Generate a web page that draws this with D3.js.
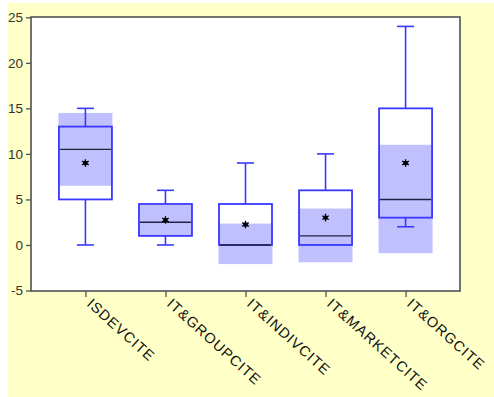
<!DOCTYPE html>
<html>
<head>
<meta charset="utf-8">
<script src="https://cdn.jsdelivr.net/npm/d3@7"></script>
<style>
  html, body { margin: 0; padding: 0; background: #ffffff; }
  svg { display: block; }
</style>
</head>
<body>
<svg id="chart" width="494" height="397"></svg>
<script>
const categories = ["ISDEVCITE", "IT&GROUPCITE", "IT&INDIVCITE", "IT&MARKETCITE", "IT&ORGCITE"];
const minValues    = [0, 0, 0, 0, 2];
const q1Values     = [5, 1, 0, 0, 3];
const medianValues = [10.5, 2.5, 0, 1, 5];
const q3Values     = [13, 4.5, 4.5, 6, 15];
const maxValues    = [15, 6, 9, 10, 24];
const meanValues   = [9, 2.75, 2.25, 3, 9];
const ciLowValues  = [6.5, 1.1, -2.1, -1.9, -0.9];
const ciHighValues = [14.5, 4.4, 2.35, 4.0, 11.0];
const yTicks = [-5, 0, 5, 10, 15, 20, 25];

const data = categories.map((c, i) => ({
  cat: c, min: minValues[i], q1: q1Values[i], med: medianValues[i], q3: q3Values[i],
  max: maxValues[i], mean: meanValues[i], lo: ciLowValues[i], hi: ciHighValues[i]
}));

const svg = d3.select("#chart");
const W = 494, H = 397;
const plot = { left: 31, right: 460, top: 17, bottom: 291 };

// background
svg.append("rect").attr("x", 8).attr("y", 3).attr("width", W - 8).attr("height", H - 3).attr("fill", "#ffffc8");

const x = d3.scalePoint().domain(categories).range([plot.left, plot.right]).padding(0.68);
const y = d3.scaleLinear().domain([-5, 25]).range([290.5, 17.3]);

// plot area
svg.append("rect")
  .attr("x", plot.left).attr("y", plot.top)
  .attr("width", plot.right - plot.left).attr("height", plot.bottom - plot.top)
  .attr("fill", "#ffffff");

const boxW = 53, capW = 17;
const blue = "#3838ff";
const g = svg.append("g");

// CI shading
g.selectAll("rect.ci").data(data).join("rect").attr("class", "ci")
  .attr("x", d => x(d.cat) - boxW / 2 - 0.5)
  .attr("width", boxW + 1)
  .attr("y", d => y(d.hi))
  .attr("height", d => y(d.lo) - y(d.hi))
  .attr("fill", "#c0c0ff");

// whiskers
g.selectAll("line.wup").data(data).join("line").attr("class", "wup")
  .attr("x1", d => x(d.cat)).attr("x2", d => x(d.cat))
  .attr("y1", d => y(d.q3)).attr("y2", d => y(d.max))
  .attr("stroke", blue).attr("stroke-width", 1.6);
g.selectAll("line.cup").data(data).join("line").attr("class", "cup")
  .attr("x1", d => x(d.cat) - capW / 2).attr("x2", d => x(d.cat) + capW / 2)
  .attr("y1", d => y(d.max)).attr("y2", d => y(d.max))
  .attr("stroke", blue).attr("stroke-width", 1.6);
const low = data.filter(d => d.min < d.q1);
g.selectAll("line.wlo").data(low).join("line").attr("class", "wlo")
  .attr("x1", d => x(d.cat)).attr("x2", d => x(d.cat))
  .attr("y1", d => y(d.q1)).attr("y2", d => y(d.min))
  .attr("stroke", blue).attr("stroke-width", 1.6);
g.selectAll("line.clo").data(low).join("line").attr("class", "clo")
  .attr("x1", d => x(d.cat) - capW / 2).attr("x2", d => x(d.cat) + capW / 2)
  .attr("y1", d => y(d.min)).attr("y2", d => y(d.min))
  .attr("stroke", blue).attr("stroke-width", 1.6);

// boxes
g.selectAll("rect.box").data(data).join("rect").attr("class", "box")
  .attr("x", d => x(d.cat) - boxW / 2)
  .attr("width", boxW)
  .attr("y", d => y(d.q3))
  .attr("height", d => y(d.q1) - y(d.q3))
  .attr("fill", "none").attr("stroke", blue).attr("stroke-width", 1.8);

// medians
g.selectAll("line.med").data(data).join("line").attr("class", "med")
  .attr("x1", d => x(d.cat) - boxW / 2 + 1).attr("x2", d => x(d.cat) + boxW / 2 - 1)
  .attr("y1", d => y(d.med)).attr("y2", d => y(d.med))
  .attr("stroke", "#222244").attr("stroke-width", 1.4);

// means
const ast = d3.symbol().type(d3.symbolAsterisk).size(40);
g.selectAll("path.mean").data(data).join("path").attr("class", "mean")
  .attr("transform", d => `translate(${x(d.cat)},${y(d.mean)})`)
  .attr("d", ast).attr("fill", "none").attr("stroke", "#000").attr("stroke-width", 1.3);
g.selectAll("circle.mean").data(data).join("circle").attr("class", "mean")
  .attr("cx", d => x(d.cat)).attr("cy", d => y(d.mean)).attr("r", 2.2).attr("fill", "#000");

// frame
svg.append("rect")
  .attr("x", plot.left).attr("y", plot.top)
  .attr("width", plot.right - plot.left).attr("height", plot.bottom - plot.top)
  .attr("fill", "none").attr("stroke", "#505050").attr("stroke-width", 1.6);

// y axis
const yAxis = svg.append("g").attr("transform", `translate(${plot.left},0)`)
  .call(d3.axisLeft(y).tickValues(yTicks).tickSize(5).tickPadding(3).tickFormat(d3.format("d")));
yAxis.select(".domain").remove();
yAxis.selectAll("line").attr("stroke", "#505050").attr("stroke-width", 1.3);
yAxis.selectAll("text").attr("font-family", "Liberation Sans, Arial, sans-serif")
  .attr("font-size", 13.5).attr("fill", "#333").text(d => d < 0 ? "-" + Math.abs(d) : d);

// x axis
const xAxis = svg.append("g").attr("transform", `translate(0,${plot.bottom})`)
  .call(d3.axisBottom(x).tickSize(6).tickFormat(""));
xAxis.select(".domain").remove();
xAxis.selectAll("line").attr("stroke", "#505050").attr("stroke-width", 1.3);
xAxis.selectAll(".tick").append("text")
  .attr("transform", "translate(0,14) rotate(42)")
  .attr("text-anchor", "start")
  .attr("font-family", "Liberation Sans, Arial, sans-serif")
  .attr("font-size", 14.5)
  .attr("letter-spacing", 1.0)
  .attr("fill", "#111")
  .text(d => d);

// left white strip (source image cropping)
svg.append("rect").attr("x", 0).attr("y", 0).attr("width", 8).attr("height", H).attr("fill", "#ffffff");
svg.append("rect").attr("x", 0).attr("y", 0).attr("width", W).attr("height", 3).attr("fill", "#ffffff");
</script>
</body>
</html>
